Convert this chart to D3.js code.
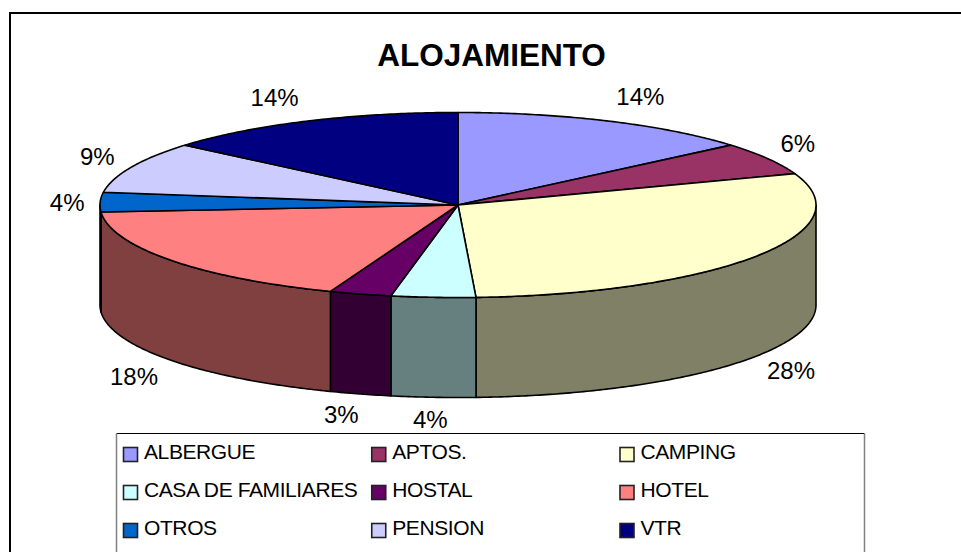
<!DOCTYPE html>
<html><head><meta charset="utf-8">
<script src="https://cdn.jsdelivr.net/npm/d3@7"></script>
<style>html,body{margin:0;padding:0;background:#fff}svg{display:block}text{font-family:"Liberation Sans",Arial,sans-serif;fill:#000}</style>
</head><body><div id="c"></div>
<script>
const chartTitle = "ALOJAMIENTO";
const categories = ["ALBERGUE","APTOS.","CAMPING","CASA DE FAMILIARES","HOSTAL","HOTEL","OTROS","PENSION","VTR"];
// Share of the ellipse
const sliceShares = [13.8,5.7,29.7,3.8,2.8,18.0,3.4,9.0,13.8];
const percentLabels = ["14%","6%","28%","4%","3%","18%","4%","9%","14%"];
const colors = ["#9999FF","#993366","#FFFFCC","#CCFFFF","#660066","#FF8080","#0066CC","#CCCCFF","#000080"];

// Layout
const W = 961, H = 552, depth = 100;
const labelNudge = [[32,-25],[30,-15],[35,14],[-3,22],[-19,21],[-37,16],[-33,0],[-34,-11],[-33,-24]];
const sx = d3.scaleLinear().domain([-1,1]).range([100,816]);
const sy = d3.scaleLinear().domain([-1,1]).range([112.5,297.5]);
const px = a => sx(Math.sin(a));
const py = a => sy(-Math.cos(a));
const line = d3.line();
const arcPts = (a0,a1,dy=0) => {
  const n = Math.max(2, Math.ceil(Math.abs(a1-a0)/0.01));
  return d3.range(n+1).map(i => { const a = a0+(a1-a0)*i/n; return [px(a), py(a)+dy]; });
};

const svg = d3.select("#c").append("svg").attr("width",W).attr("height",H);
svg.append("path").attr("d",`M10,${H}V13H${W}`).attr("fill","none").attr("stroke","#000").attr("stroke-width",2);
svg.append("text").attr("x",491.5).attr("y",66).attr("text-anchor","middle")
  .attr("font-size",31.5).attr("font-weight","bold").text(chartTitle);

const slices = d3.pie().sort(null).value(d=>d)(sliceShares);
const cx = sx(0), cy = sy(0);
const darker = c => { const r = d3.rgb(c); return d3.rgb(r.r/2,r.g/2,r.b/2).formatHex(); };

// Side wall: only the front half of the disc is visible
svg.append("g").selectAll("path").data(slices.filter(s=>s.endAngle>Math.PI/2 && s.startAngle<1.5*Math.PI)).join("path")
  .attr("d",s=>{
    const a0=Math.max(s.startAngle,Math.PI/2), a1=Math.min(s.endAngle,1.5*Math.PI);
    return line([...arcPts(a0,a1),...arcPts(a1,a0,depth)])+"Z";
  })
  .attr("fill",s=>darker(colors[s.index])).attr("stroke","#000").attr("stroke-width",1.6).attr("stroke-linejoin","round");

// Top surface
svg.append("g").selectAll("path").data(slices).join("path")
  .attr("d",s=>line([[cx,cy],...arcPts(s.startAngle,s.endAngle)])+"Z")
  .attr("fill",s=>colors[s.index]).attr("stroke","#000").attr("stroke-width",1.6).attr("stroke-linejoin","round");

// Data labels
svg.append("g").selectAll("text").data(slices).join("text")
  .attr("x",s=>{const m=(s.startAngle+s.endAngle)/2;return px(m)+labelNudge[s.index][0];})
  .attr("y",s=>{const m=(s.startAngle+s.endAngle)/2;const front=m>Math.PI/2&&m<1.5*Math.PI;return py(m)+(front?depth:0)+labelNudge[s.index][1]+8.5;})
  .attr("text-anchor","middle").attr("font-size",24).text((s,i)=>percentLabels[i]);

// Legend
const lx0=116.5, lx1=864.5, ly0=433.5;
svg.append("path").attr("d",`M${lx0},${H}V${ly0}H${lx1}V${H}`).attr("fill","#fff").attr("stroke","none");
svg.append("path").attr("d",`M${lx0},${ly0}H${lx1}`).attr("stroke","#000").attr("stroke-width",1);
svg.append("path").attr("d",`M${lx0},${ly0}V${H}M${lx1},${ly0}V${H}`).attr("stroke","#808080").attr("stroke-width",1.5);
const colX = d3.scalePoint().domain([0,1,2]).range([123.5,620]);
const rowY = d3.scalePoint().domain([0,1,2]).range([447.5,523.5]);
const leg = svg.append("g").selectAll("g").data(categories).join("g")
  .attr("transform",(d,i)=>`translate(${colX(i%3)},${rowY(Math.floor(i/3))})`);
leg.append("rect").attr("width",14).attr("height",14).attr("fill",(d,i)=>colors[i]).attr("stroke","#222").attr("stroke-width",1.6);
leg.append("text").attr("x",20.5).attr("y",11.5).attr("font-size",21).attr("letter-spacing",-0.4).text(d=>d);
</script></body></html>
